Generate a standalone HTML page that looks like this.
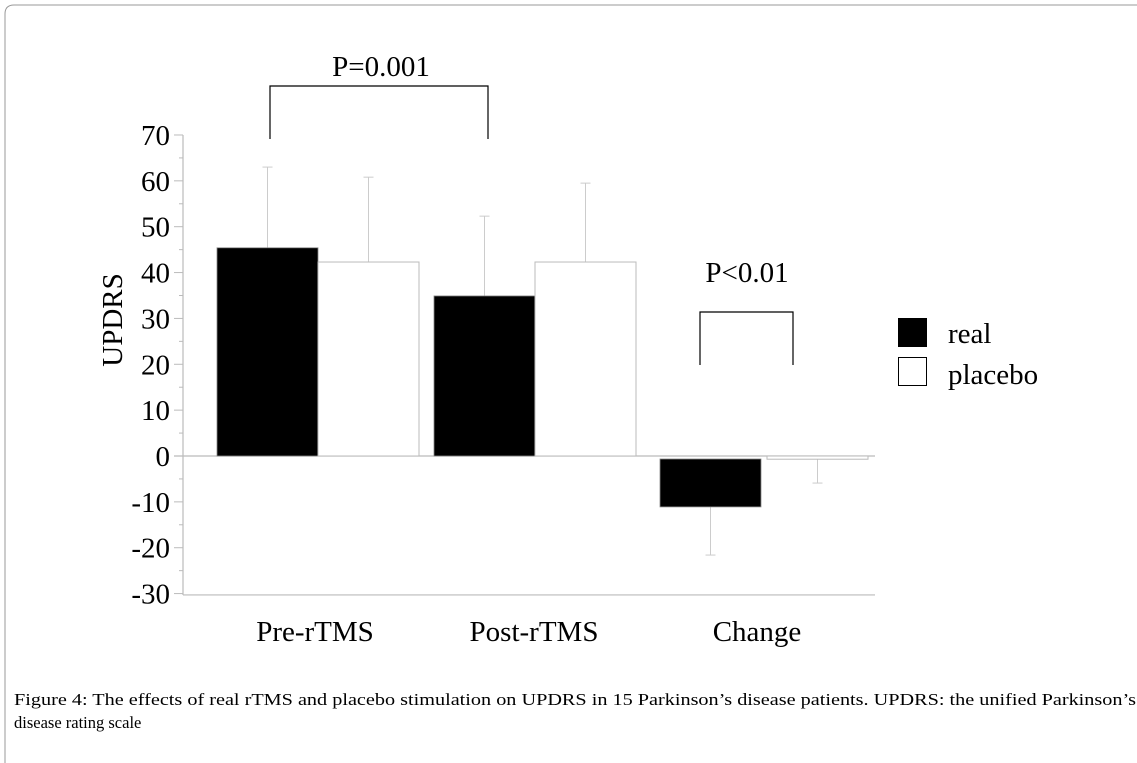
<!DOCTYPE html>
<html><head><meta charset="utf-8"><style>
html,body{margin:0;padding:0;background:#fff;}
svg{display:block;font-family:"Liberation Serif",serif;}
</style></head><body>
<svg id="chart" width="1137" height="763" viewBox="0 0 1137 763" xmlns="http://www.w3.org/2000/svg">
<path d="M1145,5 L14,5 Q5,5 5,14 L5,763" fill="none" stroke="#999" stroke-width="1"/>
<g id="plot"></g>
<text transform="translate(122,320) rotate(-90)" text-anchor="middle" font-size="29">UPDRS</text>
<text x="381" y="76" text-anchor="middle" font-size="29">P=0.001</text>
<path d="M270,139 V86 H488 V139" fill="none" stroke="#000" stroke-width="1.2"/>
<text x="747" y="282" text-anchor="middle" font-size="29">P&lt;0.01</text>
<path d="M700,365 V312 H793 V365" fill="none" stroke="#000" stroke-width="1.2"/>
<rect x="898" y="318" width="29" height="29" fill="#000"/>
<text x="948" y="343" font-size="29">real</text>
<rect x="898.5" y="357.5" width="28" height="28" fill="#fff" stroke="#000"/>
<text x="948" y="384" font-size="29">placebo</text>
<text x="14" y="705" font-size="16.5" textLength="1122" lengthAdjust="spacingAndGlyphs">Figure 4: The effects of real rTMS and placebo stimulation on UPDRS in 15 Parkinson’s disease patients. UPDRS: the unified Parkinson’s</text>
<text x="14" y="728" font-size="16.5">disease rating scale</text>
</svg>
<script>
const categories = ["Pre-rTMS", "Post-rTMS", "Change"];
const realValues = [45.4, 34.9, -11.1];
const placeboValues = [42.3, 42.3, -0.7];
const realErrors = [63, 52.3, -21.6];
const placeboErrors = [60.8, 59.5, -5.9];
const yTicks = [70, 60, 50, 40, 30, 20, 10, 0, -10, -20, -30];

const NS = "http://www.w3.org/2000/svg";
const g = document.getElementById("plot");
const y0 = 456, pxPerUnit = 4.586, axisX = 183, axisRight = 875;
function y(v){ return y0 - v * pxPerUnit; }
const groupStart = [217, 434, 660], barW = 101;
function mk(tag, attrs){ const e = document.createElementNS(NS, tag); for (const k in attrs) e.setAttribute(k, attrs[k]); g.appendChild(e); return e; }

// y axis
let ax = mk("line", {x1:axisX, y1:y(70), x2:axisX, y2:y(-30.3), stroke:"#bbb", "stroke-width":1.2});


let bx = mk("line", {x1:axisX, y1:y(-30.3), x2:axisRight, y2:y(-30.3), stroke:"#bbb", "stroke-width":1.2});


let zl = mk("line", {x1:axisX-9, y1:y0, x2:axisRight, y2:y0, stroke:"#bbb", "stroke-width":1.2});


for (let v = 70; v >= -30; v -= 5) {
  const major = v % 10 === 0;
  const t = mk("line", {x1: axisX - (major ? 9 : 4), y1:y(v), x2:axisX, y2:y(v), stroke:"#bbb", "stroke-width":1});
  
  
}
yTicks.forEach(v => {
  const t = mk("text", {x:170, y:y(v)+10, "text-anchor":"end", "font-size":29});
  t.textContent = v;
  
  
});

categories.forEach((c, i) => {
  const xr = groupStart[i], xp = xr + barW + (i === 2 ? 6 : 0);
  // error bars
  [[xr, realValues[i], realErrors[i]], [xp, placeboValues[i], placeboErrors[i]]].forEach(([bx0, v, e], j) => {
    const cx = bx0 + barW/2;
    const l = mk("line", {x1:cx, y1:y(v), x2:cx, y2:y(e), stroke:"#ccc", "stroke-width":1});
    
    
    const cap = mk("line", {x1:cx-5, y1:y(e), x2:cx+5, y2:y(e), stroke:"#ccc", "stroke-width":1});
    
    
  });
  const rv = realValues[i], pv = placeboValues[i];
  const gap = rv < 0 ? 3 : 0;
  const r = mk("rect", {x:xr, y:Math.min(y(rv), y0+gap), width:barW, height:Math.abs(y(rv)-y0)-gap, fill:"#000", stroke:"#888", "stroke-width":0.8});
  
  
  const gp = pv < 0 ? 0 : 0;
  const p = mk("rect", {x:xp, y:Math.min(y(pv), y0), width:barW, height:Math.abs(y(pv)-y0), fill:"#fff", stroke:"#bbb", "stroke-width":1});
  
  
  const lbl = mk("text", {x:[315, 534, 757][i], y:641, "text-anchor":"middle", "font-size":29});
  lbl.textContent = c;
  
  
});
</script>
</body></html>
